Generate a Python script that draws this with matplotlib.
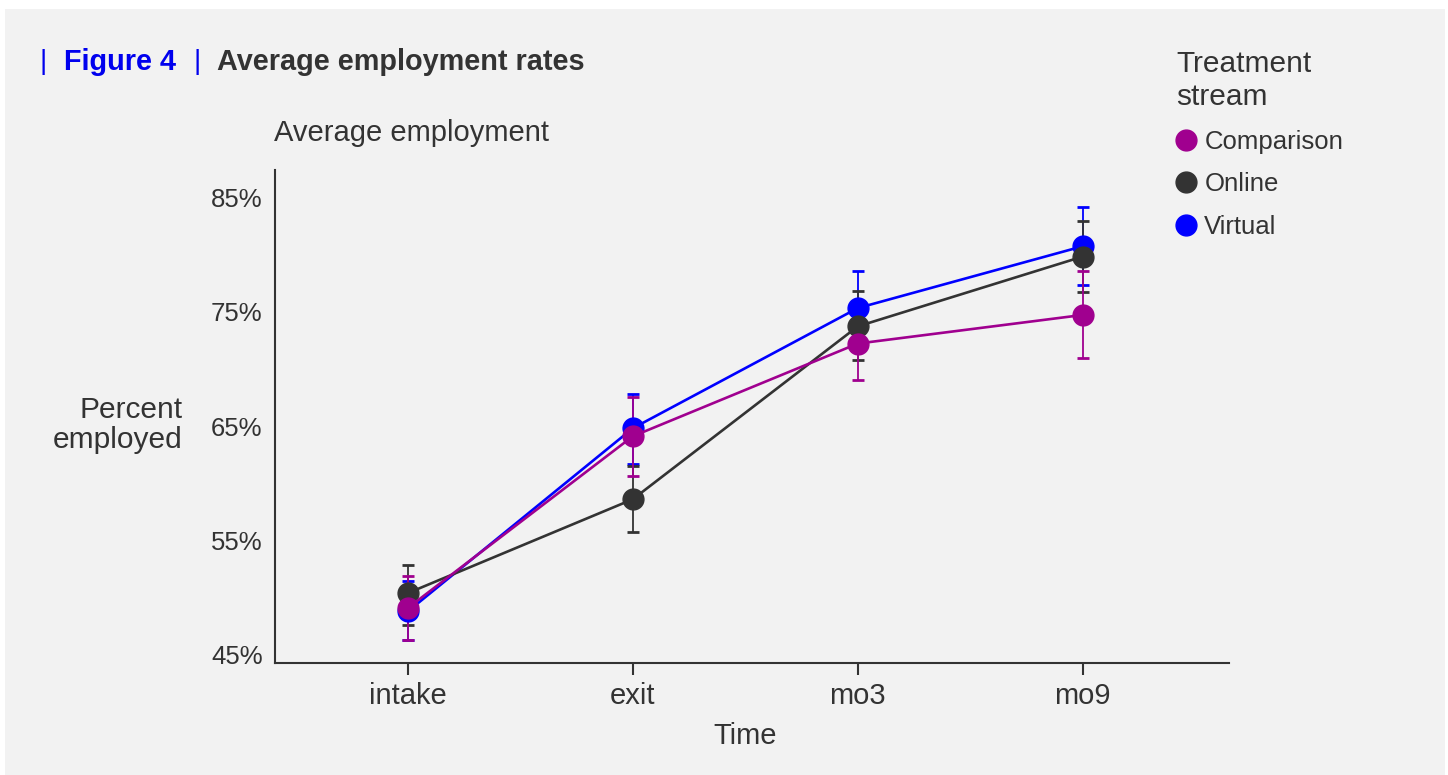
import matplotlib
matplotlib.use("Agg")
import matplotlib.pyplot as plt
from matplotlib.patches import Rectangle
from matplotlib.lines import Line2D

plt.rcParams['font.family'] = ['Liberation Sans', 'DejaVu Sans']

# Employment rates (%) with 95% interval bounds
time = ['intake', 'exit', 'mo3', 'mo9']
series = ['Comparison', 'Online', 'Virtual']

comparison = [49.1, 64.1, 72.2, 74.7]
comparison_lo = [46.3, 60.6, 69.0, 70.9]
comparison_hi = [51.9, 67.5, 75.4, 78.5]

online = [50.4, 58.6, 73.7, 79.8]
online_lo = [47.6, 55.7, 70.8, 76.7]
online_hi = [52.9, 61.5, 76.8, 82.9]

virtual = [48.8, 64.8, 75.3, 80.7]
virtual_lo = [46.3, 61.7, 72.1, 77.3]
virtual_hi = [51.5, 67.8, 78.5, 84.1]

yticks = [45, 55, 65, 75, 85]

colors = {'Comparison': '#a0008f', 'Online': '#333333', 'Virtual': '#0000ff'}
text_color = '#333333'

W, H = 1448, 775
fig = plt.figure(figsize=(W / 100, H / 100), dpi=100)
fig.patch.set_facecolor('white')


def fx(px):
    return px / W


def fy(py):
    return 1 - py / H


# light grey panel behind everything
fig.patches.append(Rectangle((fx(5), 0), fx(1440), fy(9), transform=fig.transFigure,
                             facecolor='#f2f2f2', edgecolor='none', zorder=-10))

ax = fig.add_axes([fx(275), fy(663), fx(1229 - 275), fy(170) - fy(663)])
ax.set_facecolor('none')

x = list(range(len(time)))
data = {
    'Virtual': (virtual, virtual_lo, virtual_hi),
    'Online': (online, online_lo, online_hi),
    'Comparison': (comparison, comparison_lo, comparison_hi),
}
for z, name in enumerate(['Virtual', 'Online', 'Comparison']):
    mean, lo, hi = data[name]
    err = [[m - l for m, l in zip(mean, lo)], [h - m for m, h in zip(mean, hi)]]
    ax.errorbar(x, mean, yerr=err, fmt='none', ecolor=colors[name], elinewidth=1.3,
                capsize=4.6, capthick=2, zorder=2 + z)
    ax.plot(x, mean, color=colors[name], lw=1.9, marker='o', markersize=15,
            zorder=5 + z)

ax.set_xlim(-0.59, 3.65)
ax.set_ylim(44.3, 87.36)
ax.set_xticks(x)
ax.set_xticklabels(time)
ax.set_yticks(yticks)
ax.set_yticklabels([f'{v}%' for v in yticks])

for s in ['top', 'right']:
    ax.spines[s].set_visible(False)
for s in ['left', 'bottom']:
    ax.spines[s].set_color(text_color)
    ax.spines[s].set_linewidth(1.5)

ax.tick_params(axis='x', length=8.6, width=1.5, color=text_color, labelsize=21,
               labelcolor=text_color, pad=5)
ax.tick_params(axis='y', length=0, labelsize=18.5, labelcolor=text_color, pad=9)

fig.text(fx(745), fy(736), 'Time', ha='center', va='center', fontsize=21, color=text_color)
fig.text(fx(183), fy(425), 'Percent\nemployed', ha='right', va='center', fontsize=21.5,
         color=text_color, linespacing=1.1)
fig.text(fx(274), fy(133), 'Average employment', ha='left', va='center', fontsize=21,
         color=text_color)

# heading
fig.text(fx(40), fy(62), '|', ha='left', va='center', fontsize=20, color='#0000ee')
fig.text(fx(64), fy(62), 'Figure 4', ha='left', va='center', fontsize=20.8,
         fontweight='bold', color='#0000ee')
fig.text(fx(194), fy(62), '|', ha='left', va='center', fontsize=20, color='#0000ee')
fig.text(fx(217), fy(62), 'Average employment rates', ha='left', va='center',
         fontsize=20.8, fontweight='bold', color=text_color)

# legend
handles = [Line2D([], [], color=colors[n], marker='o', markersize=15, lw=0) for n in series]
leg = fig.legend(handles, series, loc='upper left', bbox_to_anchor=(fx(1153), fy(27)),
                 frameon=False, fontsize=18.5, title='Treatment\nstream',
                 title_fontsize=21.5, handlelength=0.8, handletextpad=0.3,
                 labelspacing=0.73, alignment='left', labelcolor=text_color)
leg.get_title().set_color(text_color)
leg.get_title().set_linespacing(1.22)

fig.savefig('out.png', dpi=100)
